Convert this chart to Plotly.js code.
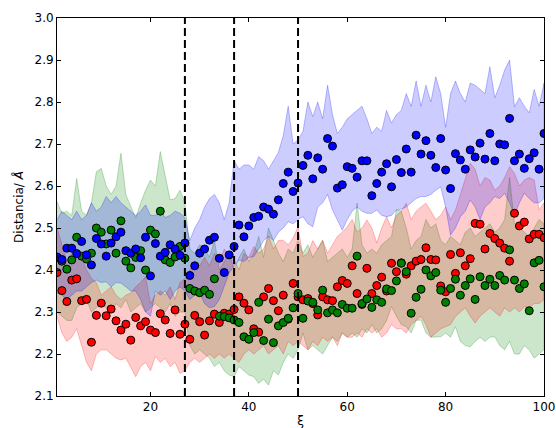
<!DOCTYPE html>
<html>
<head>
<meta charset="utf-8">
<script src="https://cdn.plot.ly/plotly-3.0.1.min.js"></script>
<style>html,body{margin:0;padding:0;background:#fff;}#chart{width:556px;height:428px;}</style>
</head>
<body>
<div id="chart"></div>
<script>
// x positions (ξ)
const xi = Array.from({length: 100}, (_, i) => i + 1);

// scatter series
const blueVals = [2.431,2.425,2.452,2.452,2.439,2.468,2.436,2.412,2.475,2.462,
  2.433,2.464,2.479,2.490,2.446,2.440,2.450,2.429,2.478,2.386,
  2.463,2.433,2.442,2.460,2.450,2.435,2.464,2.387,2.410,2.440,
  2.450,2.471,2.478,2.428,2.394,2.436,2.456,2.507,2.479,2.505,
  2.525,2.528,2.550,2.545,2.533,2.567,2.606,2.633,2.587,2.607,
  2.649,2.673,2.617,2.667,2.640,2.713,2.695,2.595,2.603,2.646,
  2.642,2.621,2.660,2.660,2.577,2.606,2.633,2.653,2.598,2.663,
  2.632,2.688,2.633,2.721,2.676,2.708,2.673,2.644,2.713,2.638,
  2.594,2.677,2.662,2.640,2.686,2.669,2.702,2.664,2.725,2.660,
  2.700,2.698,2.761,2.660,2.676,2.642,2.665,2.679,2.640,2.725];
const greenVals = [2.430,2.421,2.402,2.424,2.478,2.433,2.426,2.440,2.500,2.490,
  2.462,2.495,2.440,2.517,2.421,2.405,2.430,2.446,2.400,2.495,
  2.486,2.540,2.424,2.418,2.431,2.456,2.428,2.356,2.350,2.346,
  2.352,2.342,2.379,2.290,2.289,2.286,2.281,2.275,2.241,2.235,
  2.251,2.323,2.232,2.283,2.227,2.267,2.275,2.285,2.310,2.344,
  2.285,2.326,2.323,2.305,2.352,2.298,2.305,2.298,2.318,2.309,
  2.309,2.433,2.320,2.331,2.311,2.329,2.323,2.355,2.351,2.374,
  2.416,2.396,2.297,2.335,2.354,2.400,2.386,2.394,2.352,2.323,
  2.356,2.378,2.340,2.363,2.379,2.330,2.384,2.363,2.378,2.363,
  2.387,2.376,2.448,2.376,2.356,2.367,2.303,2.417,2.423,2.360];
const redVals = [2.394,2.351,2.325,2.376,2.379,2.327,2.330,2.228,2.292,2.321,
  2.291,2.307,2.279,2.257,2.271,2.233,2.287,2.267,2.277,2.257,
  2.251,2.296,2.281,2.249,2.305,2.247,2.271,2.235,2.292,2.277,
  2.245,2.279,2.295,2.275,2.297,2.295,2.306,2.336,2.321,2.305,
  2.260,2.252,2.336,2.356,2.327,2.303,2.340,2.283,2.368,2.336,
  2.329,2.332,2.320,2.293,2.336,2.329,2.327,2.360,2.375,2.368,
  2.410,2.344,2.318,2.404,2.344,2.363,2.383,2.350,2.416,2.396,
  2.417,2.390,2.410,2.421,2.425,2.453,2.425,2.424,2.362,2.348,
  2.437,2.392,2.441,2.410,2.427,2.511,2.509,2.450,2.487,2.475,
  2.464,2.452,2.421,2.535,2.505,2.514,2.474,2.485,2.485,2.477];

// shaded bands (upper / lower)
const blueUpper = [2.52,2.54,2.53,2.52,2.54,2.52,2.53,2.56,2.54,2.55,
  2.575,2.56,2.575,2.56,2.55,2.54,2.53,2.54,2.555,2.53,
  2.53,2.54,2.525,2.53,2.54,2.535,2.525,2.47,2.50,2.52,
  2.55,2.57,2.58,2.56,2.52,2.56,2.66,2.64,2.65,2.65,
  2.64,2.67,2.66,2.64,2.66,2.68,2.72,2.79,2.70,2.71,
  2.73,2.80,2.765,2.80,2.76,2.84,2.77,2.725,2.74,2.76,
  2.77,2.78,2.79,2.76,2.725,2.74,2.73,2.78,2.75,2.77,
  2.78,2.82,2.79,2.85,2.79,2.84,2.80,2.86,2.82,2.74,
  2.82,2.85,2.82,2.80,2.845,2.84,2.83,2.82,2.884,2.81,
  2.84,2.876,2.90,2.789,2.81,2.79,2.774,2.83,2.79,2.845];
const blueLower = [2.345,2.34,2.33,2.34,2.35,2.35,2.36,2.37,2.376,2.37,
  2.372,2.36,2.37,2.369,2.36,2.35,2.35,2.33,2.30,2.29,
  2.35,2.34,2.35,2.33,2.35,2.36,2.35,2.33,2.34,2.345,
  2.32,2.31,2.313,2.33,2.36,2.393,2.41,2.424,2.42,2.43,
  2.432,2.45,2.47,2.48,2.47,2.49,2.50,2.515,2.51,2.52,
  2.527,2.51,2.503,2.55,2.56,2.58,2.543,2.52,2.495,2.52,
  2.54,2.55,2.54,2.535,2.535,2.543,2.53,2.527,2.53,2.543,
  2.545,2.55,2.56,2.57,2.575,2.575,2.58,2.59,2.598,2.55,
  2.483,2.50,2.527,2.54,2.567,2.55,2.52,2.55,2.56,2.575,
  2.57,2.583,2.56,2.53,2.56,2.583,2.57,2.56,2.56,2.57];
const greenUpper = [2.563,2.535,2.54,2.53,2.618,2.54,2.53,2.56,2.634,2.642,
  2.60,2.58,2.60,2.678,2.579,2.55,2.524,2.56,2.59,2.614,
  2.60,2.682,2.62,2.567,2.57,2.59,2.56,2.45,2.44,2.46,
  2.45,2.43,2.47,2.40,2.42,2.44,2.40,2.43,2.45,2.42,
  2.44,2.48,2.43,2.50,2.47,2.44,2.42,2.45,2.44,2.47,
  2.44,2.46,2.43,2.45,2.47,2.42,2.43,2.44,2.45,2.43,
  2.45,2.559,2.46,2.44,2.45,2.44,2.46,2.47,2.48,2.543,
  2.54,2.50,2.45,2.47,2.48,2.52,2.50,2.51,2.47,2.46,
  2.48,2.47,2.46,2.49,2.50,2.48,2.49,2.50,2.51,2.49,
  2.50,2.52,2.62,2.51,2.50,2.49,2.48,2.50,2.52,2.51];
const greenLower = [2.30,2.29,2.28,2.28,2.31,2.32,2.33,2.30,2.31,2.32,
  2.31,2.30,2.32,2.31,2.33,2.30,2.31,2.32,2.30,2.31,
  2.32,2.31,2.30,2.32,2.29,2.30,2.30,2.22,2.20,2.21,
  2.20,2.19,2.17,2.18,2.16,2.15,2.146,2.17,2.16,2.15,
  2.146,2.13,2.14,2.126,2.16,2.15,2.18,2.20,2.19,2.21,
  2.25,2.21,2.22,2.21,2.20,2.22,2.24,2.23,2.25,2.24,
  2.25,2.24,2.26,2.25,2.27,2.25,2.26,2.28,2.313,2.29,
  2.27,2.265,2.25,2.28,2.281,2.25,2.24,2.24,2.241,2.25,
  2.24,2.265,2.23,2.22,2.217,2.23,2.24,2.23,2.24,2.241,
  2.22,2.21,2.23,2.20,2.20,2.22,2.21,2.19,2.20,2.21];
const redUpper = [2.50,2.46,2.42,2.44,2.45,2.43,2.40,2.38,2.37,2.34,
  2.35,2.36,2.34,2.33,2.34,2.345,2.36,2.37,2.384,2.32,
  2.34,2.35,2.34,2.36,2.33,2.37,2.38,2.40,2.42,2.41,
  2.43,2.41,2.44,2.42,2.45,2.43,2.424,2.40,2.44,2.43,
  2.456,2.44,2.45,2.48,2.45,2.47,2.471,2.46,2.476,2.503,
  2.432,2.44,2.47,2.45,2.471,2.44,2.46,2.48,2.49,2.503,
  2.52,2.49,2.50,2.519,2.50,2.464,2.50,2.527,2.50,2.53,
  2.54,2.559,2.52,2.54,2.55,2.559,2.54,2.52,2.53,2.55,
  2.52,2.543,2.58,2.62,2.654,2.64,2.60,2.62,2.614,2.59,
  2.60,2.62,2.646,2.63,2.60,2.614,2.62,2.614,2.543,2.56];
const redLower = [2.29,2.25,2.23,2.24,2.26,2.22,2.18,2.16,2.20,2.21,
  2.21,2.20,2.19,2.186,2.19,2.17,2.146,2.17,2.18,2.16,
  2.194,2.18,2.19,2.17,2.18,2.154,2.16,2.18,2.19,2.18,
  2.19,2.20,2.19,2.20,2.19,2.20,2.19,2.18,2.20,2.21,
  2.20,2.21,2.22,2.20,2.21,2.22,2.20,2.23,2.22,2.23,
  2.22,2.21,2.23,2.22,2.24,2.23,2.24,2.22,2.25,2.24,
  2.24,2.25,2.24,2.26,2.25,2.26,2.24,2.25,2.27,2.26,
  2.26,2.25,2.27,2.28,2.29,2.27,2.24,2.25,2.26,2.265,
  2.27,2.289,2.30,2.31,2.29,2.274,2.29,2.30,2.31,2.30,
  2.29,2.31,2.30,2.31,2.30,2.313,2.31,2.32,2.32,2.329];

// vertical dashed dividers
const dividers = [27, 37, 50];

const xTitle = 'ξ';
const yTitle = 'Distancia/ <i>Å</i>';

function band(upper, lower, rgb) {
  return {
    x: xi.concat(xi.slice().reverse()),
    y: upper.concat(lower.slice().reverse()),
    type: 'scatter', mode: 'lines', fill: 'toself',
    fillcolor: 'rgba(' + rgb + ',0.2)',
    line: {color: 'rgba(' + rgb + ',0.25)', width: 1},
    hoverinfo: 'skip', showlegend: false
  };
}
function pts(vals, color) {
  return {
    x: xi, y: vals, type: 'scatter', mode: 'markers',
    marker: {color: color, size: 8, line: {color: '#000', width: 1}},
    showlegend: false
  };
}

const data = [
  band(greenUpper, greenLower, '0,128,0'),
  band(redUpper, redLower, '255,0,0'),
  band(blueUpper, blueLower, '0,0,255'),
  pts(redVals, '#ff0000'),
  pts(greenVals, '#008000'),
  pts(blueVals, '#0000ff')
];

const shapes = dividers.map(d => ({
  type: 'line', xref: 'x', yref: 'paper', x0: d, x1: d, y0: 0, y1: 1,
  line: {color: '#000', width: 2, dash: '8px,4px'}, layer: 'above'
}));

const font = {family: 'DejaVu Sans, sans-serif', size: 12, color: '#000'};
const layout = {
  width: 556, height: 428,
  margin: {l: 57, r: 12, t: 18, b: 32},
  paper_bgcolor: '#fff', plot_bgcolor: '#fff',
  font: font,
  showlegend: false,
  xaxis: {
    range: [1, 100], tick0: 0, dtick: 20,
    showline: true, linecolor: '#000', linewidth: 1, mirror: 'ticks',
    ticks: 'inside', ticklen: 4, tickcolor: '#000',
    showgrid: false, zeroline: false,
    title: {text: xTitle, font: font, standoff: 4}
  },
  yaxis: {
    range: [2.1, 3.0], tick0: 2.1, dtick: 0.1, tickformat: '.1f',
    showline: true, linecolor: '#000', linewidth: 1, mirror: 'ticks',
    ticks: 'inside', ticklen: 4, tickcolor: '#000',
    showgrid: false, zeroline: false,
    title: {text: yTitle, font: font, standoff: 8}
  },
  shapes: shapes
};

Plotly.newPlot('chart', data, layout, {displayModeBar: false, staticPlot: true});
</script>
</body>
</html>
